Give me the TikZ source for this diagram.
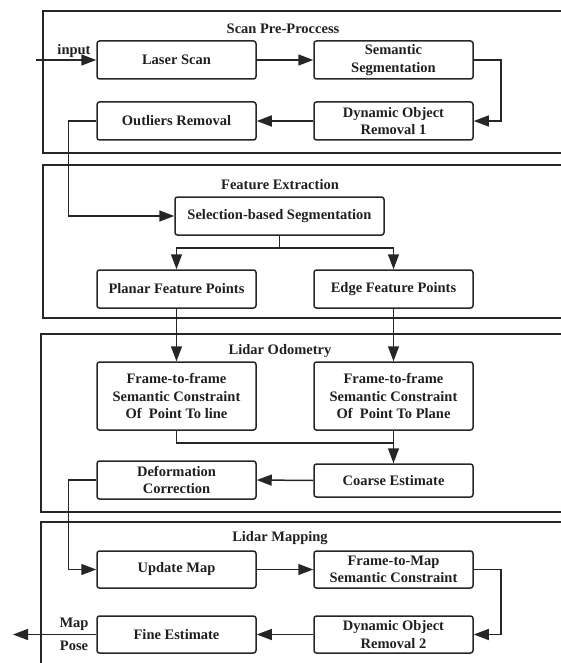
\documentclass[tikz,border=0pt]{standalone}
\usepackage{fontspec}
\setmainfont{Liberation Serif}
\usetikzlibrary{arrows.meta}
\begin{document}
\begin{tikzpicture}[x=1pt,y=-1pt,
  every node/.style={font=\fontsize{14.5}{17.5}\selectfont\bfseries, text=black!88},
  blk/.style={draw=black!85, line width=1.5pt, rounded corners=2.5pt, minimum width=159pt, minimum height=38pt, align=center, inner sep=1pt},
  grp/.style={draw=black!85, line width=1.6pt},
  grpb/.style={draw=black!85, line width=2.4pt},
  con/.style={draw=black!85, line width=1.5pt},
  arr/.style={con, -{Triangle[length=15pt 0 0,width=11pt 0 0]}},
  lbl/.style={inner sep=0pt}
]
\useasboundingbox (0,0) rectangle (561,663);
\clip (0,0) rectangle (561,663);
% groups
\draw[grp] (43,11) rectangle (620,153);
\draw[grp] (43,165) rectangle (620,318);
\draw[grpb] (41,334) rectangle (620,512);
\draw[grpb] (41,522) rectangle (620,720);
% titles
\node[lbl] (t1) at (283,29) {Scan Pre-Proccess};
\node[lbl] (t2) at (280,185) {Feature Extraction};
\node[lbl] (t3) at (280,351) {Lidar Odometry};
\node[lbl] (t4) at (280,538) {Lidar Mapping};
% nodes
\node[blk] (laser) at (176.5,60) {Laser Scan};
\node[blk] (sem) at (393.5,60) {Semantic\\Segmentation};
\node[blk] (outl) at (176.5,121) {Outliers Removal};
\node[blk] (dyn1) at (393.5,121) {Dynamic Object\\Removal 1};
\node[blk, minimum width=209pt] (sel) at (279.5,216) {Selection-based Segmentation};
\node[blk] (planar) at (176.5,289) {Planar Feature Points};
\node[blk] (edge) at (393.5,289) {Edge Feature Points};
\node[blk, minimum height=68pt] (ftfl) at (176.5,396) {Frame-to-frame\\Semantic Constraint\\Of~ Point To line};
\node[blk, minimum height=68pt] (ftfp) at (393.5,396) {Frame-to-frame\\Semantic Constraint\\Of~ Point To Plane};
\node[blk] (deform) at (176.5,480) {Deformation\\Correction};
\node[blk, minimum height=33pt] (coarse) at (393.5,480.5) {Coarse Estimate};
\node[blk, minimum height=37pt] (update) at (176.5,569.5) {Update Map};
\node[blk, minimum height=37pt] (f2m) at (393.5,569.5) {Frame-to-Map\\Semantic Constraint};
\node[blk, minimum height=37pt] (dyn2) at (393.5,634.5) {Dynamic Object\\Removal 2};
\node[blk, minimum height=37pt] (fine) at (176.5,634.5) {Fine Estimate};
% labels
\coordinate (in) at (36,60);
\coordinate (out) at (13,634.5);
\node[lbl] (inl) at (74,51) {input};
\node[lbl] (mapl) at (74,624) {Map};
\node[lbl] (posel) at (74,646) {Pose};
% connectors
\draw[arr] (in) -- (laser.west);
\draw[arr] (laser.east) -- (sem.west);
\draw[arr] (sem.east) -- ++(27,0) |- (dyn1.east);
\draw[arr] (dyn1.west) -- (outl.east);
\draw[arr] (outl.west) -- ++(-28,0) |- (sel.west);
\draw[arr] (sel.south) -- ++(0,12) -| (planar.north);
\draw[arr] (sel.south) -- ++(0,12) -| (edge.north);
\draw[arr] (planar.south) -- (ftfl.north);
\draw[arr] (edge.south) -- (ftfp.north);
\draw[arr] (ftfl.south) -- ++(0,12) -| (coarse.north);
\draw[con] (ftfp.south) -- (coarse.north);
\draw[arr] (coarse.west) -- (deform.east);
\draw[arr] (deform.west) -- ++(-28,0) |- (update.west);
\draw[arr] (update.east) -- (f2m.west);
\draw[arr] (f2m.east) -- ++(27,0) |- (dyn2.east);
\draw[arr] (dyn2.west) -- (fine.east);
\draw[arr] (fine.west) -- (out);
\end{tikzpicture}
\end{document}
